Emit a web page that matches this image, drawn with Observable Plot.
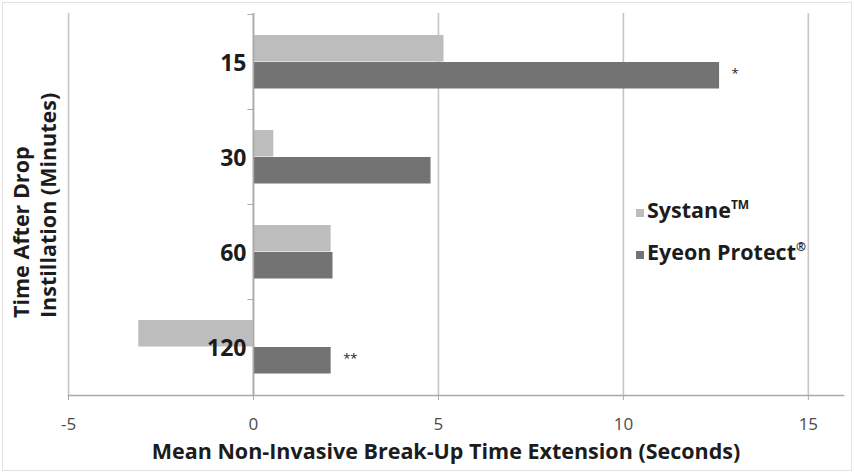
<!DOCTYPE html>
<html><head><meta charset="utf-8">
<script src="https://cdn.jsdelivr.net/npm/d3@7"></script>
<script src="https://cdn.jsdelivr.net/npm/@observablehq/plot@0.6"></script>
<style>
body{margin:0;background:#fff;}
#wrap{position:relative;width:854px;height:473px;overflow:hidden;background:#fff;}
#border{position:absolute;left:2px;top:2px;width:848px;height:467px;border:1px solid #e2e2e2;pointer-events:none;}
</style></head><body><div id="wrap"><div id="border"></div></div>
<script>
const categories = ["15", "30", "60", "120"];
const seriesNames = ["Systane", "Eyeon Protect"];
const systane = [5.15, 0.55, 2.1, -3.1];
const eyeon = [12.6, 4.8, 2.15, 2.1];
const significance = ["*", "", "", "**"];
const xTicks = [-5, 0, 5, 10, 15];
const xTitle = "Mean Non-Invasive Break-Up Time Extension (Seconds)";
const yTitle = ["Time After Drop", "Instillation (Minutes)"];

const colors = ["#bdbdbd", "#737373"];
const font = "'Open Sans', sans-serif";
const ink = "#1c1c1c";

const rowsS = categories.map((c, i) => ({cat: c, series: seriesNames[0], value: systane[i]}));
const rowsE = categories.map((c, i) => ({cat: c, series: seriesNames[1], value: eyeon[i], sig: significance[i]}));

const H = 473, MT = 13, MB = 78;
const step = (H - MT - MB) / categories.length;

const chart = Plot.plot({
  width: 854, height: H, marginTop: MT, marginBottom: MB, marginLeft: 68, marginRight: 11,
  style: {fontFamily: font, background: "transparent", overflow: "visible"},
  x: {domain: [-5, 15.95]},
  y: {domain: categories, padding: 0, axis: null},
  color: {domain: seriesNames, range: colors},
  marks: [
    Plot.gridX(xTicks, {stroke: "#c6c6c6", strokeOpacity: 1, strokeWidth: 1.6}),
    Plot.frame({anchor: "bottom", stroke: "#a9a9a9", strokeWidth: 1.6}),
    Plot.axisX(xTicks, {tickSize: 5, tickPadding: 17, fontSize: 17, fill: "#4a4a4a", stroke: "#a9a9a9", label: null, tickFormat: d => String(d)}),
    Plot.barX(rowsS, {x: "value", y: "cat", fill: "series", insetTop: 21, insetBottom: step - 48}),
    Plot.barX(rowsE, {x: "value", y: "cat", fill: "series", insetTop: 48, insetBottom: step - 75}),
    Plot.ruleX([0], {stroke: "#a9a9a9", strokeWidth: 1.6}),
    Plot.barX(categories, {x1: -0.15, x2: 0, y: d => d, fill: "#a9a9a9", insetBottom: step - 1.5}),
    Plot.text(categories, {x: 0, y: d => d, text: d => d, dx: -7, dy: 2, textAnchor: "end", fontSize: 23, fontWeight: "bold", fill: ink}),
    Plot.text(rowsE, {x: "value", y: "cat", text: "sig", dx: 12, dy: 12, textAnchor: "start", fontSize: 13, fill: ink})
  ]
});
document.getElementById("wrap").prepend(chart);

const svg = d3.select(chart);
svg.append("text").attr("x", 446).attr("y", 453).attr("text-anchor", "middle").attr("dominant-baseline", "middle")
  .attr("font-family", font).attr("font-weight", "bold").attr("font-size", 21.5).attr("fill", ink).text(xTitle);
yTitle.forEach((t, i) => {
  svg.append("text").attr("transform", `translate(${29 + i * 27},318) rotate(-90)`).attr("text-anchor", "start")
    .attr("font-family", font).attr("font-weight", "bold").attr("font-size", 21.5).attr("fill", ink).text(t);
});
const leg = [{name: seriesNames[0], sup: "TM", y: 218}, {name: seriesNames[1], sup: "®", y: 260}];
leg.forEach((l, i) => {
  svg.append("rect").attr("x", 636).attr("y", l.y - 9).attr("width", 8).attr("height", 8).attr("fill", colors[i]);
  const t = svg.append("text").attr("x", 647).attr("y", l.y).attr("text-anchor", "start").attr("font-family", font).attr("font-weight", "bold")
    .attr("font-size", 21.5).attr("fill", ink).text(l.name);
  t.append("tspan").attr("font-size", 12).attr("dy", -9).text(l.sup);
});
</script></body></html>
